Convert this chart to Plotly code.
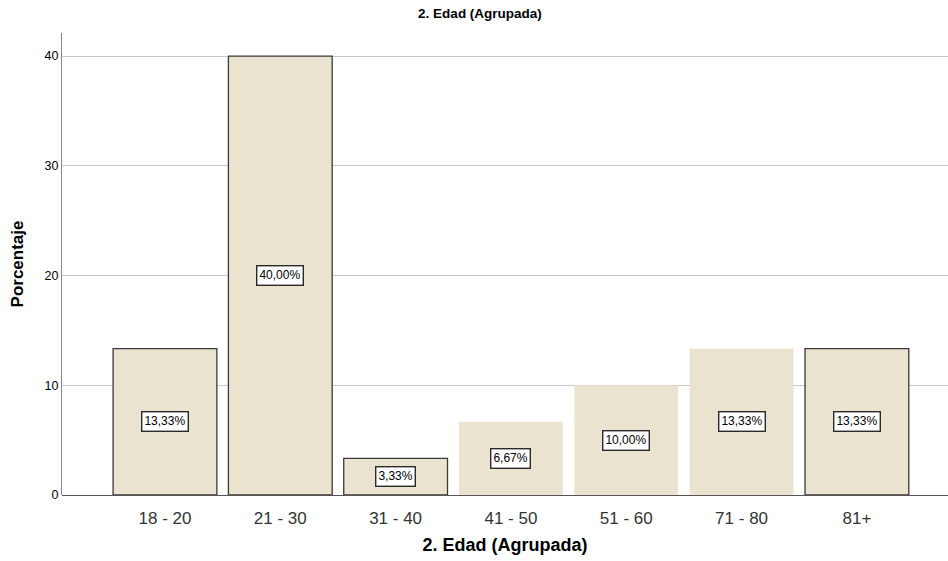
import plotly.graph_objects as go

# Age groups and their share of respondents (%)
categories = ["18 - 20", "21 - 30", "31 - 40", "41 - 50", "51 - 60", "71 - 80", "81+"]
percentages = [13.33, 40.00, 3.33, 6.67, 10.00, 13.33, 13.33]
outlined = [True, True, True, False, False, False, True]
y_ticks = [0, 10, 20, 30, 40]

FONT = "Liberation Sans, Arial, sans-serif"
FILL = "#EAE3CF"
EDGE = "#3a3a3a"

fig = go.Figure()
fig.add_trace(go.Bar(
    x=list(range(len(categories))),
    y=percentages,
    width=0.9,
    marker=dict(
        color=FILL,
        line=dict(color=EDGE, width=[1.3 if o else 0 for o in outlined]),
    ),
    hoverinfo="skip",
))

# Value labels in small boxed callouts at mid-height of each bar
for i, v in enumerate(percentages):
    fig.add_annotation(
        x=i, y=v / 2,
        text=f"{v:.2f}%".replace(".", ","),
        showarrow=False,
        font=dict(family=FONT, size=12, color="#000000"),
        bgcolor="#ffffff",
        bordercolor="#2a2a2a",
        borderwidth=1.4,
        borderpad=2,
    )

fig.update_layout(
    width=948, height=561,
    margin=dict(l=62, r=0, t=33, b=66),
    paper_bgcolor="#ffffff",
    plot_bgcolor="#ffffff",
    showlegend=False,
    title=dict(
        text="<b>2. Edad (Agrupada)</b>",
        x=480 / 948, xanchor="center", xref="container",
        y=1 - 13 / 561, yanchor="middle",
        font=dict(family=FONT, size=13.5, color="#000000"),
    ),
    xaxis=dict(
        range=[-0.893, 6.79],
        tickmode="array",
        tickvals=list(range(len(categories))),
        ticktext=categories,
        showgrid=False,
        zeroline=False,
        showline=False,
        ticks="",
        ticklabelstandoff=11,
        tickfont=dict(family=FONT, size=17, color="#333333"),
        title=dict(text="<b>2. Edad (Agrupada)</b>",
                   font=dict(family=FONT, size=18, color="#000000"),
                   standoff=11),
    ),
    yaxis=dict(
        range=[0, 42.1],
        tickmode="array",
        tickvals=y_ticks,
        showgrid=True,
        gridcolor="#c8c8c8",
        gridwidth=1,
        zeroline=True,
        zerolinecolor="#555555",
        zerolinewidth=1,
        showline=True,
        linecolor="#888888",
        linewidth=1,
        ticks="",
        ticklen=0,
        tickfont=dict(family=FONT, size=12.5, color="#000000"),
        title=dict(text="<b>Porcentaje</b>",
                   font=dict(family=FONT, size=17, color="#000000"),
                   standoff=16),
    ),
    bargap=0.1,
)

fig.write_html("out.html")
